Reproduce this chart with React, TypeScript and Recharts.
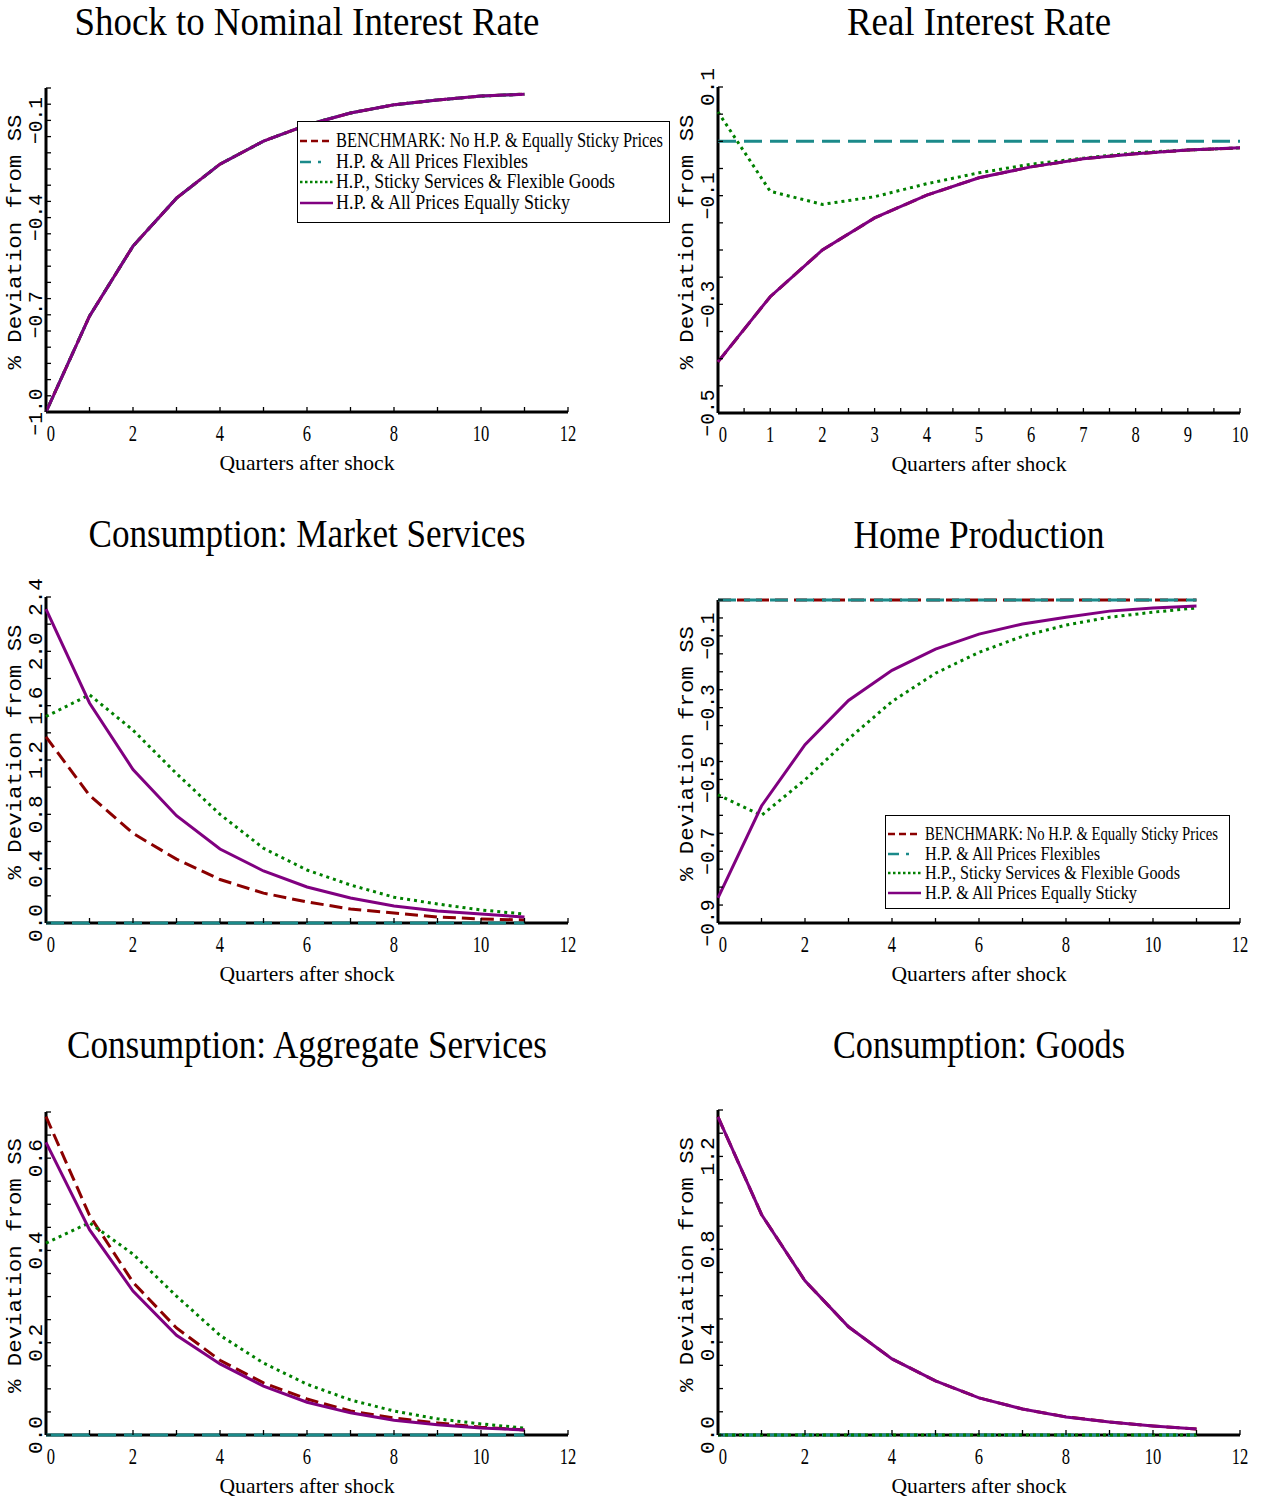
import React from 'react';
import { LineChart, Line, XAxis, YAxis } from 'recharts';

// ---------- categories ----------
const quarters12 = [0, 1, 2, 3, 4, 5, 6, 7, 8, 9, 10, 11];
const quarters10 = [0, 1, 2, 3, 4, 5, 6, 7, 8, 9, 10];

// ---------- Shock to Nominal Interest Rate ----------
const nominalSticky = [-1.0, -0.704, -0.488, -0.34, -0.235, -0.164, -0.114, -0.077, -0.052, -0.037, -0.025, -0.019];
const nominalBench = [-1.0, -0.704, -0.488, -0.34, -0.235, -0.164, -0.114, -0.077, -0.052, -0.037, -0.025, -0.019];
const nominalFlex = [-1.0, -0.704, -0.488, -0.34, -0.235, -0.164, -0.114, -0.077, -0.052, -0.037, -0.025, -0.019];
const nominalStickyServ = [-1.0, -0.704, -0.488, -0.34, -0.235, -0.164, -0.114, -0.077, -0.052, -0.037, -0.025, -0.019];

// ---------- Real Interest Rate ----------
const realBench = [-0.406, -0.286, -0.2, -0.141, -0.099, -0.067, -0.047, -0.032, -0.023, -0.016, -0.012];
const realFlex = [0, 0, 0, 0, 0, 0, 0, 0, 0, 0, 0];
const realStickyServ = [0.054, -0.092, -0.116, -0.102, -0.078, -0.058, -0.042, -0.031, -0.021, -0.016, -0.012];
const realSticky = [-0.406, -0.286, -0.2, -0.141, -0.099, -0.067, -0.047, -0.032, -0.023, -0.016, -0.012];

// ---------- Consumption: Market Services ----------
const msBench = [1.37, 0.94, 0.66, 0.47, 0.32, 0.22, 0.155, 0.103, 0.074, 0.044, 0.03, 0.022];
const msFlex = [0, 0, 0, 0, 0, 0, 0, 0, 0, 0, 0, 0];
const msStickyServ = [1.52, 1.68, 1.42, 1.1, 0.8, 0.55, 0.39, 0.28, 0.19, 0.14, 0.096, 0.066];
const msSticky = [2.31, 1.62, 1.13, 0.79, 0.545, 0.383, 0.265, 0.184, 0.125, 0.088, 0.066, 0.044];

// ---------- Home Production ----------
const hpBench = [0, 0, 0, 0, 0, 0, 0, 0, 0, 0, 0, 0];
const hpFlex = [0, 0, 0, 0, 0, 0, 0, 0, 0, 0, 0, 0];
const hpStickyServ = [-0.543, -0.6, -0.501, -0.387, -0.283, -0.204, -0.146, -0.101, -0.07, -0.048, -0.034, -0.022];
const hpSticky = [-0.83, -0.574, -0.403, -0.28, -0.196, -0.137, -0.095, -0.067, -0.048, -0.031, -0.022, -0.017];

// ---------- Consumption: Aggregate Services ----------
const asBench = [0.69, 0.476, 0.331, 0.232, 0.162, 0.113, 0.078, 0.052, 0.037, 0.026, 0.017, 0.011];
const asFlex = [0, 0, 0, 0, 0, 0, 0, 0, 0, 0, 0, 0];
const asStickyServ = [0.416, 0.46, 0.392, 0.301, 0.216, 0.156, 0.11, 0.076, 0.052, 0.035, 0.024, 0.015];
const asSticky = [0.634, 0.445, 0.312, 0.216, 0.154, 0.106, 0.071, 0.048, 0.032, 0.022, 0.015, 0.011];

// ---------- Consumption: Goods ----------
const gBench = [1.37, 0.95, 0.664, 0.466, 0.328, 0.233, 0.16, 0.112, 0.078, 0.056, 0.039, 0.026];
const gFlex = [0, 0, 0, 0, 0, 0, 0, 0, 0, 0, 0, 0];
const gStickyServ = [0, 0, 0, 0, 0, 0, 0, 0, 0, 0, 0, 0];
const gSticky = [1.37, 0.95, 0.664, 0.466, 0.328, 0.233, 0.16, 0.112, 0.078, 0.056, 0.039, 0.026];

// ---------- tick labels ----------
const xLabelsQuarters12 = [0, 2, 4, 6, 8, 10, 12];
const xLabelsQuarters10 = [0, 1, 2, 3, 4, 5, 6, 7, 8, 9, 10];
const yMajorNominal = [-1.0, -0.7, -0.4, -0.1];
const yMajorReal = [-0.5, -0.3, -0.1, 0.1];
const yMajorMarket = [0.0, 0.4, 0.8, 1.2, 1.6, 2.0, 2.4];
const yMajorHome = [-0.9, -0.7, -0.5, -0.3, -0.1];
const yMajorAggregate = [0.0, 0.2, 0.4, 0.6];
const yMajorGoods = [0.0, 0.4, 0.8, 1.2];

const SERIES = [
  { key: 'bench', name: 'BENCHMARK: No H.P. & Equally Sticky Prices', color: '#8b0000', dash: '13 6', legendDash: '7 4' },
  { key: 'flex', name: 'H.P. & All Prices Flexibles', color: '#1b8a8a', dash: '18 8', legendDash: '11 7 3 20' },
  { key: 'stickyServ', name: 'H.P., Sticky Services & Flexible Goods', color: '#008000', dash: '3 4', legendDash: '2.5 2.5' },
  { key: 'sticky', name: 'H.P. & All Prices Equally Sticky', color: '#800080', dash: undefined, legendDash: undefined },
];

const buildRows = (q: number[], bench: number[], flex: number[], ss: number[], sticky: number[]) =>
  q.map((v, i) => ({ q: v, bench: bench[i], flex: flex[i], stickyServ: ss[i], sticky: sticky[i] }));

const rangeTicks = (min: number, max: number, step: number) => {
  const n = Math.round((max - min) / step);
  const out: number[] = [];
  for (let i = 0; i <= n; i++) out.push(Number((min + i * step).toFixed(4)));
  return out;
};

const fmtY = (v: number) => {
  const s = Math.abs(v).toFixed(1);
  return v < -1e-9 ? '\u2212' + s : s;
};

const makeXTick = (labels: number[]) => (props: any) => {
  const { x, y, payload } = props;
  const v = payload.value;
  const isLabel = labels.some((m) => Math.abs(m - v) < 1e-6);
  return (
    <g>
      <line x1={x} x2={x} y1={y} y2={y - 5} stroke="#000" strokeWidth={1.3} />
      {isLabel && (
        <text
          transform={`translate(${x + (v === 0 ? 5 : 0)},${y + 29}) scale(0.72,1)`}
          textAnchor="middle"
          fontFamily="Liberation Serif"
          fontSize={23}
          fill="#000"
        >
          {String(v)}
        </text>
      )}
    </g>
  );
};

const makeYTick = (major: number[]) => (props: any) => {
  const { x, y, payload } = props;
  const v = payload.value;
  const isMajor = major.some((m) => Math.abs(m - v) < 1e-6);
  const label = fmtY(v);
  return (
    <g>
      <line x1={x} x2={x + 5} y1={y} y2={y} stroke="#000" strokeWidth={1.3} />
      {isMajor && (
        <text
          transform={`translate(${x - 4},${y}) rotate(-90)`}
          textAnchor="middle"
          fontFamily="Liberation Mono"
          fontSize={21}
          textLength={label.length > 3 ? 47 : 38}
          lengthAdjust="spacingAndGlyphs"
          fill="#000"
        >
          {label}
        </text>
      )}
    </g>
  );
};

type Panel = {
  title: string;
  rows: any[];
  left: number;
  top: number;
  plot: { x0: number; x1: number; y0: number; y1: number };
  xDomain: [number, number];
  xTicks: number[];
  xLabels: number[];
  yDomain: [number, number];
  yTicks: number[];
  yMajor: number[];
};

const CW = 632;
const CH = 400;
const AXIS_W = 1;

const PANELS: Panel[] = [
  {
    title: 'Shock to Nominal Interest Rate',
    rows: buildRows(quarters12, nominalBench, nominalFlex, nominalStickyServ, nominalSticky),
    left: 0, top: 50,
    plot: { x0: 46, x1: 568, y0: 88, y1: 412 },
    xDomain: [0, 12], xTicks: rangeTicks(0, 12, 1), xLabels: xLabelsQuarters12,
    yDomain: [-1.0, 0.0], yTicks: rangeTicks(-1.0, 0.0, 0.05), yMajor: yMajorNominal,
  },
  {
    title: 'Real Interest Rate',
    rows: buildRows(quarters10, realBench, realFlex, realStickyServ, realSticky),
    left: 632, top: 50,
    plot: { x0: 718, x1: 1240, y0: 87, y1: 413 },
    xDomain: [0, 10], xTicks: rangeTicks(0, 10, 0.5), xLabels: xLabelsQuarters10,
    yDomain: [-0.5, 0.1], yTicks: rangeTicks(-0.5, 0.1, 0.05), yMajor: yMajorReal,
  },
  {
    title: 'Consumption: Market Services',
    rows: buildRows(quarters12, msBench, msFlex, msStickyServ, msSticky),
    left: 0, top: 560,
    plot: { x0: 46, x1: 568, y0: 597, y1: 923 },
    xDomain: [0, 12], xTicks: rangeTicks(0, 12, 1), xLabels: xLabelsQuarters12,
    yDomain: [0, 2.4], yTicks: rangeTicks(0, 2.4, 0.2), yMajor: yMajorMarket,
  },
  {
    title: 'Home Production',
    rows: buildRows(quarters12, hpBench, hpFlex, hpStickyServ, hpSticky),
    left: 632, top: 560,
    plot: { x0: 718, x1: 1240, y0: 600, y1: 923 },
    xDomain: [0, 12], xTicks: rangeTicks(0, 12, 1), xLabels: xLabelsQuarters12,
    yDomain: [-0.9, 0.0], yTicks: rangeTicks(-0.9, 0.0, 0.05), yMajor: yMajorHome,
  },
  {
    title: 'Consumption: Aggregate Services',
    rows: buildRows(quarters12, asBench, asFlex, asStickyServ, asSticky),
    left: 0, top: 1070,
    plot: { x0: 46, x1: 568, y0: 1112, y1: 1435 },
    xDomain: [0, 12], xTicks: rangeTicks(0, 12, 1), xLabels: xLabelsQuarters12,
    yDomain: [0, 0.7], yTicks: rangeTicks(0, 0.7, 0.05), yMajor: yMajorAggregate,
  },
  {
    title: 'Consumption: Goods',
    rows: buildRows(quarters12, gBench, gFlex, gStickyServ, gSticky),
    left: 632, top: 1070,
    plot: { x0: 718, x1: 1240, y0: 1110, y1: 1435 },
    xDomain: [0, 12], xTicks: rangeTicks(0, 12, 1), xLabels: xLabelsQuarters12,
    yDomain: [0, 1.4], yTicks: rangeTicks(0, 1.4, 0.1), yMajor: yMajorGoods,
  },
];

const TITLE_BASE = [35, 35, 547, 548, 1058, 1058];
const TITLE_LEN = [465, 264, 437, 251, 480, 292];

const ChartPanel = ({ p }: { p: Panel }) => {
  const margin = {
    left: p.plot.x0 - p.left - AXIS_W,
    right: p.left + CW - p.plot.x1,
    top: p.plot.y0 - p.top,
    bottom: p.top + CH - p.plot.y1 - AXIS_W,
  };
  return (
    <div style={{ position: 'absolute', left: p.left, top: p.top, width: CW, height: CH }}>
      <LineChart width={CW} height={CH} data={p.rows} margin={margin}>
        <XAxis
          dataKey="q"
          type="number"
          domain={p.xDomain}
          ticks={p.xTicks}
          interval={0}
          height={AXIS_W}
          tickSize={0}
          tickMargin={0}
          tickLine={false}
          axisLine={{ stroke: '#000', strokeWidth: 3 }}
          tick={makeXTick(p.xLabels)}
          zIndex={100}
        />
        <YAxis
          type="number"
          domain={p.yDomain}
          ticks={p.yTicks}
          interval={0}
          width={AXIS_W}
          tickSize={0}
          tickMargin={0}
          tickLine={false}
          axisLine={{ stroke: '#000', strokeWidth: 3 }}
          tick={makeYTick(p.yMajor)}
          zIndex={100}
        />
        {SERIES.map((s, i) => (
          <Line
            key={s.key}
            dataKey={s.key}
            name={s.name}
            type="linear"
            stroke={s.color}
            strokeWidth={3}
            strokeDasharray={s.dash}
            dot={false}
            activeDot={false}
            isAnimationActive={false}
            zIndex={1000 + i}
          />
        ))}
      </LineChart>
    </div>
  );
};

const LegendBox = ({ x, y, w, h, textX, baselines, lens, fontSize, sx, sx1, sx2 }: any) => (
  <g>
    <rect x={x} y={y} width={w} height={h} fill="#fff" stroke="#000" strokeWidth={1} />
    {SERIES.map((s, i) => (
      <g key={s.key}>
        <line
          x1={sx1}
          x2={sx2}
          y1={baselines[i] - 6}
          y2={baselines[i] - 6}
          stroke={s.color}
          strokeWidth={2.6}
          strokeDasharray={s.legendDash}
        />
        <text
          transform={`translate(${textX},${baselines[i]}) scale(${sx},1)`}
          fontFamily="Liberation Serif"
          fontSize={fontSize}
          textLength={lens[i] / sx}
          lengthAdjust="spacingAndGlyphs"
          fill="#000"
        >
          {s.name}
        </text>
      </g>
    ))}
  </g>
);

export default function App() {
  return (
    <div style={{ position: 'absolute', left: 0, top: 0, width: 1264, height: 1500, background: '#fff' }}>
      {PANELS.map((p, i) => (
        <ChartPanel key={i} p={p} />
      ))}
      <svg
        width={1264}
        height={1500}
        style={{ position: 'absolute', left: 0, top: 0, pointerEvents: 'none' }}
      >
        {PANELS.map((p, i) => {
          const cx = (p.plot.x0 + p.plot.x1) / 2;
          const cy = (p.plot.y0 + p.plot.y1) / 2 - 8;
          const yx = p.plot.x0 - 25;
          return (
            <g key={i}>
              <text
                x={cx}
                y={TITLE_BASE[i]}
                textAnchor="middle"
                fontFamily="Liberation Serif"
                fontSize={40}
                textLength={TITLE_LEN[i]}
                lengthAdjust="spacingAndGlyphs"
                fill="#000"
              >
                {p.title}
              </text>
              <text
                x={cx}
                y={p.plot.y1 + 58}
                textAnchor="middle"
                fontFamily="Liberation Serif"
                fontSize={21}
                textLength={175}
                lengthAdjust="spacingAndGlyphs"
                fill="#000"
              >
                Quarters after shock
              </text>
              <text
                transform={`translate(${yx},${cy}) rotate(-90)`}
                textAnchor="middle"
                fontFamily="Liberation Mono"
                fontSize={20}
                textLength={255}
                lengthAdjust="spacingAndGlyphs"
                fill="#000"
              >
                % Deviation from SS
              </text>
            </g>
          );
        })}
        <LegendBox
          x={297.5} y={121.5} w={372} h={101}
          textX={336} baselines={[147, 168, 188, 209]} lens={[327, 192, 279, 234]}
          fontSize={20} sx={0.85} sx1={300} sx2={333}
        />
        <LegendBox
          x={885.5} y={815.5} w={344} h={93}
          textX={925} baselines={[840, 860, 879, 899]} lens={[293, 175, 255, 212]}
          fontSize={18} sx={0.85} sx1={888} sx2={921}
        />
      </svg>
    </div>
  );
}
